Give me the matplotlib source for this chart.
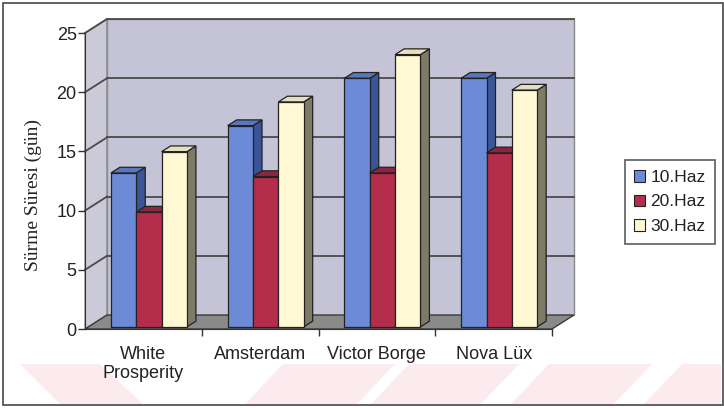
import matplotlib.pyplot as plt
from matplotlib.patches import Polygon, Rectangle, Patch

# data
categories = ['White\nProsperity', 'Amsterdam', 'Victor Borge', 'Nova Lüx']
series_names = ['10.Haz', '20.Haz', '30.Haz']
haz10 = [13.0, 17.0, 21.0, 21.0]
haz20 = [9.7, 12.7, 13.0, 14.7]
haz30 = [14.8, 19.0, 23.0, 20.0]
y_ticks = [0, 5, 10, 15, 20, 25]

series = [haz10, haz20, haz30]
front_colors = ['#6c8ad6', '#b42e4c', '#fff8d2']
side_colors = ['#3b5698', '#6c1a2e', '#7e7a66']
top_colors = ['#5a76bc', '#8c2640', '#e4dfbc']

W, H = 724, 408
fig = plt.figure(figsize=(W / 100, H / 100), dpi=100)
fig.patch.set_facecolor('white')

# front plane of the 3d box: x 85..552 px, y 33..329 px
ax = fig.add_axes([85 / W, 1 - 329 / H, 467 / W, 296 / H])
ax.set_xlim(0, 4)
ax.set_ylim(0, 25)
ax.patch.set_alpha(0)

# depth offset of the back wall (data units)
dx, dy = 0.188, 1.18
ymax = 25

wall = '#c5c4d6'
grid_col = '#4a4a4a'

# back wall, side wall and floor
ax.add_patch(Polygon([(dx, dy), (4 + dx, dy), (4 + dx, ymax + dy), (dx, ymax + dy)],
                     closed=True, facecolor=wall, edgecolor='#8a8a8a', lw=1.0,
                     clip_on=False, zorder=0))
ax.add_patch(Polygon([(0, 0), (dx, dy), (dx, ymax + dy), (0, ymax)],
                     closed=True, facecolor='#cbcad8', edgecolor='#8a8a8a', lw=1.0,
                     clip_on=False, zorder=0))
ax.add_patch(Polygon([(0, 0), (4, 0), (4 + dx, dy), (dx, dy)],
                     closed=True, facecolor='#8a8a8a', edgecolor='#3a3a3a', lw=1.0,
                     clip_on=False, zorder=0.5))

# gridlines on back wall and side wall
for v in y_ticks[1:]:
    ax.plot([dx, 4 + dx], [v + dy, v + dy], color=grid_col, lw=1.3,
            clip_on=False, zorder=0.6)
    ax.plot([0, dx], [v, v + dy], color=grid_col, lw=1.3,
            clip_on=False, zorder=0.6)

# 3d bars
f0, f1 = 0.15, 0.56
bw = 0.217
start = 0.222
z = 1
for i in range(len(categories)):
    for j, vals in enumerate(series):
        v = vals[i]
        x0 = i + start + j * bw
        x1 = x0 + bw
        b0 = f0 * dy
        ddx = (f1 - f0) * dx
        ddy = (f1 - f0) * dy
        ax.add_patch(Polygon([(x1, b0), (x1 + ddx, b0 + ddy),
                              (x1 + ddx, v + b0 + ddy), (x1, v + b0)],
                             closed=True, facecolor=side_colors[j],
                             edgecolor='#222222', lw=0.9, clip_on=False, zorder=z))
        ax.add_patch(Polygon([(x0, v + b0), (x1, v + b0),
                              (x1 + ddx, v + b0 + ddy), (x0 + ddx, v + b0 + ddy)],
                             closed=True, facecolor=top_colors[j],
                             edgecolor='#222222', lw=0.9, clip_on=False, zorder=z))
        ax.bar(x0, v, width=bw, bottom=b0, align='edge', color=front_colors[j],
               edgecolor='#222222', lw=0.9, zorder=z + 0.5, clip_on=False)
        z += 1

# axes styling
for s in ['top', 'right']:
    ax.spines[s].set_visible(False)
ax.spines['left'].set_color('#333333')
ax.spines['bottom'].set_color('#333333')
ax.spines['left'].set_zorder(50)
ax.spines['bottom'].set_zorder(50)

tick_font = dict(family='Liberation Sans', size=13)
ax.set_yticks(y_ticks)
ax.set_yticklabels([str(t) for t in y_ticks], **tick_font, color='#222222')
ax.tick_params(axis='y', length=5, width=1, color='#333333', pad=1)

ax.set_xticks([0.5, 1.5, 2.5, 3.5])
ax.set_xticklabels(categories, **tick_font, color='#222222', linespacing=1.2)
ax.tick_params(axis='x', which='major', length=0, pad=12)
ax.set_xticks([1, 2, 3, 4], minor=True)
ax.tick_params(axis='x', which='minor', length=5, width=1, color='#333333')

fig.text(33 / W, 1 - 195 / H, 'Sürme Süresi (gün)', rotation=90,
         ha='center', va='center', family='Liberation Serif', size=14,
         color='#222222')

# legend
handles = [Patch(facecolor=c, edgecolor='#222222', lw=0.8) for c in front_colors]
leg = fig.legend(handles, series_names, loc='center',
                 bbox_to_anchor=(670 / W, 1 - 202 / H),
                 prop=dict(family='Liberation Sans', size=12.5),
                 frameon=True, fancybox=False, edgecolor='#333333',
                 handlelength=0.65, handleheight=0.65, handletextpad=0.3,
                 labelspacing=0.55, borderpad=0.55, borderaxespad=0)
leg.get_frame().set_linewidth(1.2)
for t in leg.get_texts():
    t.set_color('#222222')

# faint pink watermark stripes along the bottom
pink = '#fcebee'
band_top, band_bot = 364, 404


def stripe(top_l, top_r, bot_l, bot_r):
    pts = [(top_l / W, 1 - band_top / H), (top_r / W, 1 - band_top / H),
           (bot_r / W, 1 - band_bot / H), (bot_l / W, 1 - band_bot / H)]
    fig.patches.append(Polygon(pts, closed=True, transform=fig.transFigure,
                               facecolor=pink, edgecolor='none', zorder=-5))


stripe(20, 100, 60, 143)
for tl, tr in [(283, 395), (409, 519), (549, 652), (682, 760)]:
    stripe(tl, min(tr, 721), tl - 38, min(tr - 38, 721))

# outer frame
fig.patches.append(Rectangle((3 / W, 3 / H), 720 / W, 402 / H,
                             transform=fig.transFigure, facecolor='none',
                             edgecolor='#555555', lw=1.3, zorder=10))

fig.savefig('out.png', dpi=100)
